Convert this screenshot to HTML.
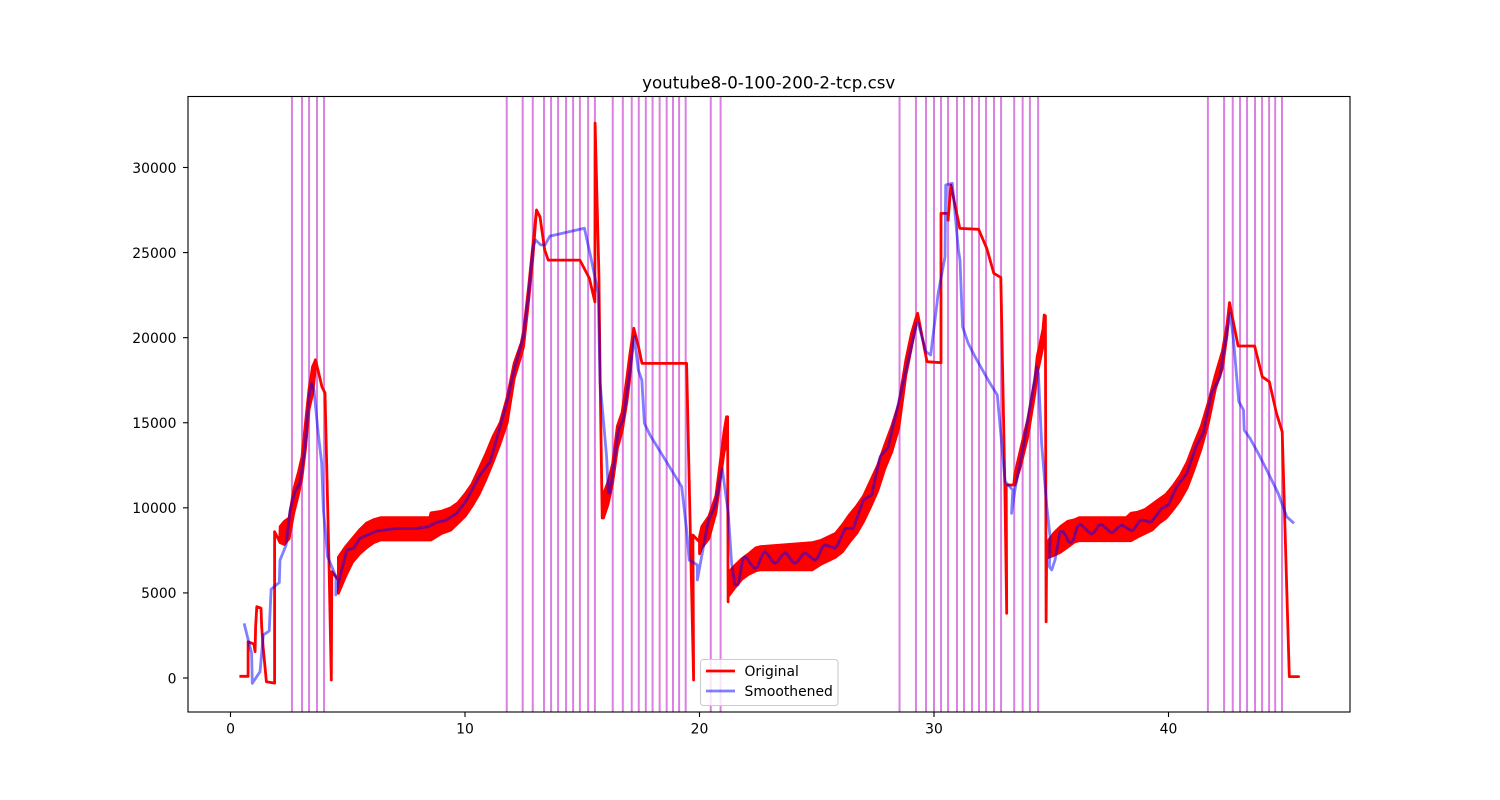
<!DOCTYPE html>
<html>
<head>
<meta charset="utf-8">
<title>youtube8-0-100-200-2-tcp.csv</title>
<style>
html,body{margin:0;padding:0;background:#fff;}
svg{display:block;}
text{font-family:"DejaVu Sans","Liberation Sans",sans-serif;fill:#000;}
</style>
</head>
<body>
<svg id="chart" width="1500" height="800" viewBox="0 0 1500 800" xmlns="http://www.w3.org/2000/svg">
  <rect x="0" y="0" width="1500" height="800" fill="#fff"/>
  <text x="768.7" y="88.5" font-size="16.67" text-anchor="middle">youtube8-0-100-200-2-tcp.csv</text>
  <g id="vlines"></g>
  <g id="series"></g>
  <g id="axes"></g>
  <g>
    <rect x="700.5" y="659.5" width="137.5" height="46" rx="3" ry="3" fill="#fff" fill-opacity="0.8" stroke="#ccc" stroke-width="1.1"/>
    <line x1="706" y1="671" x2="735" y2="671" stroke="#f00" stroke-width="2.8"/>
    <text x="744.5" y="676" font-size="13.9">Original</text>
    <line x1="706" y1="691" x2="735" y2="691" stroke="#00f" stroke-opacity="0.5" stroke-width="2.8"/>
    <text x="744.5" y="696" font-size="13.9">Smoothened</text>
  </g>
</svg>
<script>
const xTicks = [0, 10, 20, 30, 40];
const yTicks = [0, 5000, 10000, 15000, 20000, 25000, 30000];
const eventTimes = [2.62,3.05,3.35,3.69,3.99,11.78,12.46,12.89,13.37,13.67,13.97,14.31,14.61,14.90,15.25,15.54,16.30,16.73,17.11,17.41,17.71,18.0,18.30,18.60,18.87,19.13,19.41,20.48,20.90,28.53,29.23,29.66,30.0,30.30,30.60,30.98,31.28,31.62,31.92,32.22,32.56,32.86,33.42,33.78,34.09,34.44,41.68,42.37,42.74,43.05,43.35,43.69,43.99,44.29,44.55,44.84];

const originalX = [0.38,0.75,0.75,1.0,1.05,1.07,1.12,1.3,1.33,1.39,1.53,1.88,1.88,2.1,
 2.12,2.3,2.5,2.7,2.9,3.05,3.2,3.35,3.5,3.6,
 3.62,3.75,3.9,4.03,4.2,4.3,4.32,4.6,
 4.6,4.9,5.2,5.5,5.8,6.1,6.4,8.5,8.55,9.0,9.4,9.7,10.0,10.3,10.6,10.9,11.2,11.5,11.8,12.1,12.4,12.5,12.7,12.9,
 13.05,13.2,13.4,13.55,14.9,15.3,15.54,15.55,15.71,15.76,15.85,
 15.9,16.1,16.3,16.5,16.7,16.9,17.05,
 17.2,17.4,17.55,19.45,19.75,19.72,20.0,
 20.0,20.1,20.4,20.7,20.95,21.05,21.15,
 21.2,21.22,
 21.22,21.5,21.8,22.1,22.4,22.6,24.8,25.2,25.5,25.8,26.1,26.4,26.7,27.0,27.3,27.6,27.9,28.2,28.5,28.8,29.05,29.2,
 29.3,29.7,30.3,30.3,30.6,30.6,30.72,31.1,31.9,32.25,32.55,32.85,33.02,33.1,33.08,33.4,
 33.45,33.7,34.0,34.3,34.4,34.5,34.65,34.7,
 34.75,34.78,
 34.8,35.1,35.4,35.7,36.0,36.2,38.2,38.4,38.7,39.0,39.3,39.6,39.9,40.2,40.5,40.8,41.1,41.4,41.7,42.0,42.3,42.5,
 42.6,42.97,43.67,44.0,44.3,44.6,44.85,45.15,45.55];
const originalHigh = [100,100,2130,2000,1550,3000,4190,4100,3000,1840,-215,-300,8600,8000,
 8900,9200,9400,11100,12100,13000,15000,17000,18300,18600,
 18700,18000,17100,16750,6750,-120,6250,5760,
 7100,7700,8200,8700,9100,9300,9420,9420,9700,9800,10000,10300,10800,11400,12300,13200,14200,15000,16500,18500,19700,20400,22800,25500,
 27500,27100,25150,24560,24560,23500,22100,32600,23700,17700,9400,
 10800,11500,12600,14800,15600,17600,19200,
 20550,19470,18490,18490,-120,8400,8000,
 8300,8900,9500,10700,13400,14500,15350,
 15350,4480,
 6170,6600,7000,7300,7650,7720,7950,8100,8300,8500,9000,9600,10100,10700,11600,12500,13700,14800,16100,18700,20300,21000,
 21430,18590,18530,27300,27300,26900,28970,26420,26370,25240,23780,23540,11440,3800,11340,11340,
 12000,13500,15200,17500,18900,19500,20500,21330,
 21270,3310,
 7920,8500,8900,9200,9300,9420,9420,9680,9750,9900,10200,10500,10800,11300,11900,12700,13800,14800,16200,17800,19200,20800,
 22060,19510,19510,17700,17410,15570,14470,80,80];
const originalLow = [100,100,2130,2000,1550,3000,4190,4100,3000,1840,-215,-300,8600,8000,
 7950,7850,8200,9700,10800,11800,13500,15800,16700,17900,
 18700,18000,17100,16750,6750,-120,6250,5760,
 4980,5950,6800,7300,7650,7950,8110,8110,8110,8500,8700,9100,9500,10100,10800,11700,12700,13800,15000,17600,19000,19500,22000,24800,
 27500,27100,25150,24560,24560,23500,22100,32600,23700,17700,9400,
 9400,10200,11500,13500,14500,16200,17900,
 20550,19470,18490,18490,-120,8400,8000,
 7300,7650,8200,9700,12300,13300,13700,
 15350,4480,
 4780,5300,5800,6100,6300,6350,6350,6700,6900,7100,7420,8000,8500,9200,10070,11000,12300,13300,14700,17800,19500,20500,
 21430,18590,18530,27300,27300,26900,28970,26420,26370,25240,23780,23540,11440,3800,11340,11340,
 11340,12500,14200,16700,17900,18500,19500,20000,
 21270,3310,
 7050,7200,7400,7700,8000,8070,8070,8070,8300,8500,8700,9100,9400,9900,10460,11200,12300,13500,15000,17000,18200,20200,
 22060,19510,19510,17700,17410,15570,14470,80,80];

const smoothX = [0.58,0.90,0.93,1.26,1.40,1.65,1.73,2.08,2.11,2.37,2.54,2.75,2.96,3.18,3.36,3.46,3.56,3.74,3.89,3.96,4.14,4.50,4.49,4.60,4.96,5.24,5.52,6.23,7.09,7.94,8.43,8.79,9.15,9.65,10.07,10.64,11.07,11.78,12.13,12.49,12.70,12.91,13.01,13.23,13.41,13.62,15.09,15.33,15.68,15.76,16.04,16.11,16.18,16.54,16.74,17.04,17.22,17.39,17.54,17.65,17.89,18.46,19.24,19.45,19.56,19.91,19.91,20.09,20.38,20.66,20.97,21.23,21.37,21.51,21.65,
 21.84,21.94,22.04,22.27,22.37,22.47,22.69,22.79,22.89,23.12,23.22,23.32,23.55,23.65,23.75,23.97,24.07,24.17,24.40,24.50,24.60,24.83,24.93,25.03,25.25,25.35,25.45,25.68,25.78,25.88,
 26.21,26.56,26.99,27.34,27.70,28.05,28.48,28.84,29.26,29.33,29.66,29.86,30.18,30.47,30.50,30.78,31.04,31.11,31.22,31.46,31.75,32.39,32.70,33.03,33.36,33.31,33.45,33.81,34.38,34.45,34.59,34.81,34.95,34.92,35.02,35.16,
 35.37,35.51,35.62,35.73,35.83,35.93,36.12,36.22,36.32,36.62,36.72,36.82,37.02,37.12,37.22,37.48,37.58,37.68,37.9,38.0,38.1,38.33,38.43,38.53,38.76,38.86,38.96,39.18,39.28,
 39.71,39.99,40.35,40.78,41.2,41.48,41.84,42.2,42.34,42.63,42.77,43.0,43.2,43.23,43.48,43.83,44.19,44.68,45.04,45.35];
const smoothY = [3210,1450,-310,370,2530,2760,5210,5620,6930,7810,9870,10950,11440,13590,16730,17310,16920,14380,12620,9870,7130,5950,4880,5580,7520,7620,8210,8640,8790,8790,8890,9150,9250,9680,10460,11930,12710,16140,18290,20050,22410,25350,25740,25450,25450,25970,26430,24960,22610,17320,13000,10870,10870,14570,15160,18100,20050,18100,17510,14970,14280,13000,11240,8700,6930,6640,5760,7130,9280,10070,12320,9680,6740,5470,5470,
 6950,7130,7000,6530,6440,6530,7300,7420,7300,6830,6740,6830,7270,7360,7270,6830,6740,6830,7270,7360,7270,7000,6930,7050,7720,7820,7780,7680,7620,7800,
 8790,8790,10460,10750,13000,13590,16140,18290,20840,20840,19170,18980,22610,24760,28970,29070,25150,24560,20640,19670,18880,17320,16630,11540,11050,9680,11050,13590,18290,17900,13790,10070,8300,6540,6350,6930,
 8600,8600,8350,8030,7950,8100,8900,9050,8950,8550,8460,8550,8950,9050,8950,8620,8540,8620,8920,8990,8920,8720,8660,8730,9220,9280,9260,9170,9190,
 9970,10170,11240,12030,13690,14380,16730,17710,19080,21430,19860,16240,15750,14570,14080,13200,12220,10850,9480,9090];

const SVGNS = 'http://www.w3.org/2000/svg';
function xAxis(v){ return 230.5 + v * 23.45; }
function yAxis(v){ return 678 - v * 0.017017; }

const vGroup = document.getElementById('vlines');
eventTimes.forEach(function(t){
  const l = document.createElementNS(SVGNS, 'line');
  
  
  l.setAttribute('x1', xAxis(t));
  l.setAttribute('x2', xAxis(t));
  l.setAttribute('y1', 96.5);
  l.setAttribute('y2', 712);
  l.setAttribute('stroke', '#db80e2');
  l.setAttribute('stroke-width', 2);
  vGroup.appendChild(l);
});

function originalPath(){
  let d = 'M' + xAxis(originalX[0]).toFixed(1) + ' ' + yAxis(originalHigh[0]).toFixed(1);
  for (let i = 1; i < originalX.length; i++) {
    d += 'L' + xAxis(originalX[i]).toFixed(1) + ' ' + yAxis(originalHigh[i]).toFixed(1);
  }
  for (let i = originalX.length - 1; i >= 0; i--) {
    d += 'L' + xAxis(originalX[i]).toFixed(1) + ' ' + yAxis(originalLow[i]).toFixed(1);
  }
  return d;
}

const sGroup = document.getElementById('series');
const redPath = document.createElementNS(SVGNS, 'path');


redPath.setAttribute('d', originalPath());
redPath.setAttribute('fill', '#f00');
redPath.setAttribute('stroke', '#f00');
redPath.setAttribute('stroke-width', 2.8);
redPath.setAttribute('stroke-linejoin', 'round');
sGroup.appendChild(redPath);

const bluePts = smoothX.map(function(x, i){
  return xAxis(x).toFixed(1) + ',' + yAxis(smoothY[i]).toFixed(1);
}).join(' ');
const bluePath = document.createElementNS(SVGNS, 'polyline');


bluePath.setAttribute('points', bluePts);
bluePath.setAttribute('fill', 'none');
bluePath.setAttribute('stroke', '#00f');
bluePath.setAttribute('stroke-opacity', 0.5);
bluePath.setAttribute('stroke-width', 2.8);
bluePath.setAttribute('stroke-linejoin', 'round');
sGroup.appendChild(bluePath);

const aGroup = document.getElementById('axes');
const frame = document.createElementNS(SVGNS, 'rect');


frame.setAttribute('x', 188);
frame.setAttribute('y', 96.5);
frame.setAttribute('width', 1162);
frame.setAttribute('height', 615.5);
frame.setAttribute('fill', 'none');
frame.setAttribute('stroke', '#000');
frame.setAttribute('stroke-width', 1.1);
aGroup.appendChild(frame);

xTicks.forEach(function(t){
  const px = xAxis(t);
  const m = document.createElementNS(SVGNS, 'line');
  
  
  m.setAttribute('x1', px);
  m.setAttribute('x2', px);
  m.setAttribute('y1', 712);
  m.setAttribute('y2', 717);
  m.setAttribute('stroke', '#000');
  m.setAttribute('stroke-width', 1.1);
  aGroup.appendChild(m);
  const lb = document.createElementNS(SVGNS, 'text');
  
  
  lb.setAttribute('x', px);
  lb.setAttribute('y', 733.5);
  lb.setAttribute('font-size', 13.9);
  lb.setAttribute('text-anchor', 'middle');
  lb.textContent = String(t);
  aGroup.appendChild(lb);
});

yTicks.forEach(function(t){
  const py = yAxis(t);
  const m = document.createElementNS(SVGNS, 'line');
  
  
  m.setAttribute('x1', 183);
  m.setAttribute('x2', 188);
  m.setAttribute('y1', py);
  m.setAttribute('y2', py);
  m.setAttribute('stroke', '#000');
  m.setAttribute('stroke-width', 1.1);
  aGroup.appendChild(m);
  const lb = document.createElementNS(SVGNS, 'text');
  
  
  lb.setAttribute('x', 176.5);
  lb.setAttribute('y', py + 5.3);
  lb.setAttribute('font-size', 13.9);
  lb.setAttribute('text-anchor', 'end');
  lb.textContent = String(t);
  aGroup.appendChild(lb);
});
</script>
</body>
</html>
